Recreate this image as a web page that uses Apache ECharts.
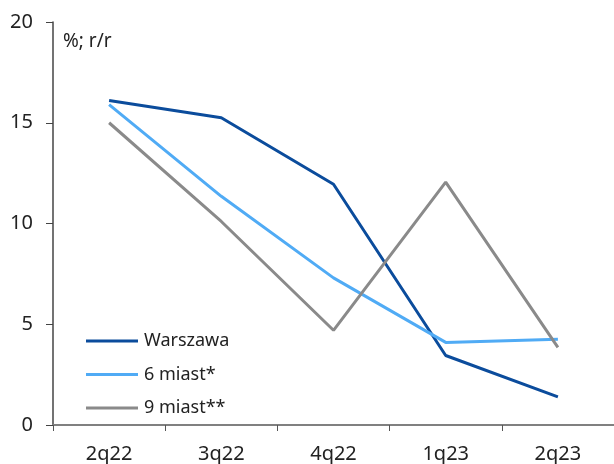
<!DOCTYPE html>
<html><head><meta charset="utf-8">
<script src="https://cdn.jsdelivr.net/npm/echarts@6/dist/echarts.min.js"></script>
<style>html,body{margin:0;padding:0;background:#fff}#c{width:614px;height:464px}</style>
</head><body><div id="c"></div>
<script>
const categories = ["2q22", "3q22", "4q22", "1q23", "2q23"];
const warszawa = [16.1, 15.25, 11.95, 3.45, 1.4];
const miast6 = [15.9, 11.35, 7.3, 4.1, 4.25];
const miast9 = [15.0, 10.1, 4.7, 12.05, 3.85];
const yTicks = [0, 5, 10, 15, 20];
const unitLabel = "%; r/r";
const names = ["Warszawa", "6 miast*", "9 miast**"];
const colors = ["#0b4c9c", "#50abf5", "#8a8a8a"];
const FONT = "Noto Sans";

const chart = echarts.init(document.getElementById('c'), null, {renderer: 'canvas'});
const mk = (name, data, color) => ({
  name, type: 'line', data, symbol: 'none', color,
  lineStyle: {width: 3, color}, animation: false
});
chart.setOption({
  animation: false,
  textStyle: {fontFamily: FONT},
  grid: {left: 53, top: 22, width: 568, height: 406, containLabel: false},
  legend: {
    orient: 'vertical', left: 81, top: 327, itemWidth: 52, itemHeight: 3,
    itemGap: 15.5, icon: 'rect',
    textStyle: {fontSize: 18, color: '#222', fontFamily: FONT, padding: [0, 0, 0, 1]},
    data: names.map((n, i) => ({name: n, itemStyle: {color: colors[i]}}))
  },
  graphic: [{type: 'text', left: 63, top: 32, style: {text: unitLabel, fontSize: 19, fill: '#222', fontFamily: FONT}}],
  xAxis: {
    type: 'category', data: categories, boundaryGap: true,
    axisLine: {lineStyle: {color: '#808080', width: 2}},
    axisTick: {show: true, length: 6, lineStyle: {color: '#555'}},
    axisLabel: {fontSize: 20, color: '#222', margin: 19, fontFamily: FONT},
    splitLine: {show: false}
  },
  yAxis: {
    type: 'value', min: yTicks[0], max: yTicks[yTicks.length - 1], interval: 5,
    axisLine: {show: true, lineStyle: {color: '#444', width: 1.5}},
    axisTick: {show: true, length: 7, lineStyle: {color: '#444'}},
    axisLabel: {fontSize: 20, color: '#222', margin: 20, fontFamily: FONT},
    splitLine: {show: false}
  },
  series: [mk(names[0], warszawa, colors[0]), mk(names[1], miast6, colors[1]), mk(names[2], miast9, colors[2])]
});
</script></body></html>
